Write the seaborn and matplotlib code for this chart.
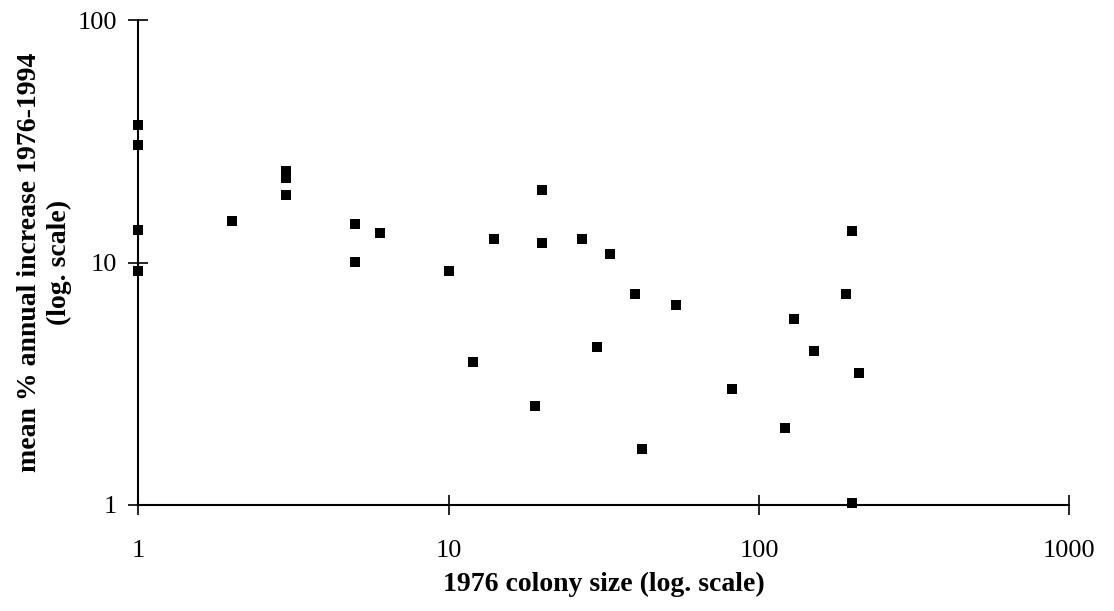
import matplotlib
matplotlib.use("Agg")
import pandas as pd
import matplotlib.pyplot as plt
import seaborn as sns
from matplotlib.ticker import FixedLocator, NullLocator

# colony size in 1976 and mean annual increase
colony_size = [1, 1, 1, 1, 2, 3, 3, 3, 5, 5, 6, 10, 12, 14, 19, 20, 20, 27, 30, 33,
               40, 42, 54, 82, 121, 130, 150, 190, 200, 200, 210]
annual_increase = [37.1, 30.5, 13.6, 9.25, 14.9, 23.9, 22.4, 19.0, 14.4, 10.1, 13.3, 9.25,
                   3.9, 12.5, 2.56, 20.0, 12.0, 12.5, 4.47, 10.8, 7.41, 1.70, 6.68, 3.01,
                   2.08, 5.85, 4.33, 7.39, 13.5, 1.02, 3.49]

x_ticks = [1, 10, 100, 1000]
y_ticks = [1, 10, 100]

df = pd.DataFrame({"size": colony_size, "increase": annual_increase})

sns.set_style("ticks")
plt.rcParams["font.family"] = ["Liberation Serif", "DejaVu Serif"]
plt.rcParams["text.color"] = "black"
plt.rcParams["axes.labelcolor"] = "black"

fig = plt.figure(figsize=(11.14, 6.11), dpi=100)
ax = fig.add_axes([0.124, 0.1735, 0.836, 0.7935])

sns.scatterplot(data=df, x="size", y="increase", marker="s", s=50, color="black",
                edgecolor="black", linewidth=0, ax=ax, clip_on=False, zorder=3)

ax.set_xscale("log")
ax.set_yscale("log")
ax.set_xlim(1, 1000)
ax.set_ylim(1, 100)
ax.xaxis.set_major_locator(FixedLocator(x_ticks))
ax.yaxis.set_major_locator(FixedLocator(y_ticks))
ax.xaxis.set_minor_locator(NullLocator())
ax.yaxis.set_minor_locator(NullLocator())
ax.set_xticklabels([str(v) for v in x_ticks])
ax.set_yticklabels([str(v) for v in y_ticks])
ax.tick_params(axis="both", direction="inout", length=14, width=1.2, labelsize=19,
               colors="black", labelcolor="black", pad=8)
ax.tick_params(axis="x", pad=18)

for side in ["top", "right"]:
    ax.spines[side].set_visible(False)
for side in ["left", "bottom"]:
    ax.spines[side].set_linewidth(1.5)
    ax.spines[side].set_color("black")

ax.set_xlabel("1976 colony size (log. scale)", fontsize=20, fontweight="bold", labelpad=7)
ax.set_ylabel("mean % annual increase 1976-1994\n(log. scale)", fontsize=20,
              fontweight="bold", linespacing=1.25)
ax.yaxis.set_label_coords(-0.071, 0.5)

fig.savefig("out.png", dpi=100)
